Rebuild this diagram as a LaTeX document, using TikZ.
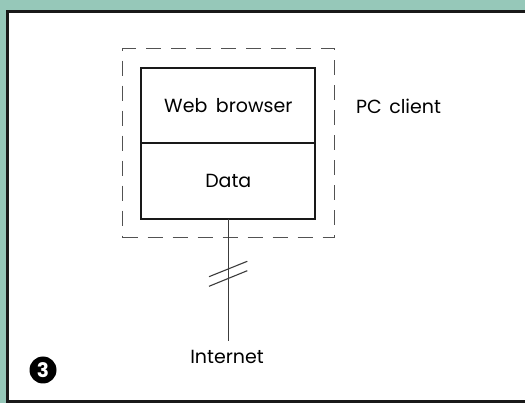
\documentclass[tikz,border=0pt]{standalone}
\usepackage{fontspec}
\setmainfont{Poppins}
\usepackage{xcolor}
\definecolor{scan}{RGB}{150,200,185}
\definecolor{rim}{RGB}{25,25,25}
\usetikzlibrary{positioning}

\begin{document}
\begin{tikzpicture}[x=1pt, y=-1pt,
  part/.style={rectangle, draw=rim, line width=1.8pt, outer sep=0pt, minimum width=174pt, minimum height=75.5pt, font=\fontsize{19}{21}\selectfont},
  hostbox/.style={rectangle, draw=rim!75, dash pattern=on 15pt off 10pt, line width=1.1pt, minimum width=212pt, minimum height=189pt},
  lbl/.style={font=\fontsize{19}{21}\selectfont, inner sep=2pt},
  wire/.style={draw=rim!85, line width=1.1pt}
]
  \useasboundingbox (0,0) rectangle (525,403);
  % page and frame
  \fill[scan] (0,0) rectangle (525,403);
  \fill[white] (7.5,11.5) rectangle (525,401.5);
  \draw[rim, line width=3pt] (525,11.5) -- (7.5,11.5) -- (7.5,401.5) -- (525,401.5);

  \node[hostbox] (pc) at (228.7,143.2) {};
  \node[part] (web) at (228.3,105.5) {Web\hspace{0.45em}browser};
  \node[part, below=0pt of web] (data) {Data};
  \node[lbl] (pclbl) at (398.5,106) {PC\hspace{0.4em}client};

  \node[lbl] (inet) at (227,357) {Internet};
  \draw[wire, shorten >=7pt] (data.south) -- (data.south |- inet.north);

  % line break marks
  \coordinate (cut) at (228.3,273.7);
  \draw[wire] ([shift={(-19.3,3)}]cut) -- ([shift={(19,-12.4)}]cut);
  \draw[wire] ([shift={(-19.3,12.6)}]cut) -- ([shift={(19,-3)}]cut);

  \node[circle, fill=black, minimum size=27pt, inner sep=0pt, text=white, font=\fontsize{20}{20}\selectfont\bfseries] (num) at (43,370) {3};
\end{tikzpicture}
\end{document}
